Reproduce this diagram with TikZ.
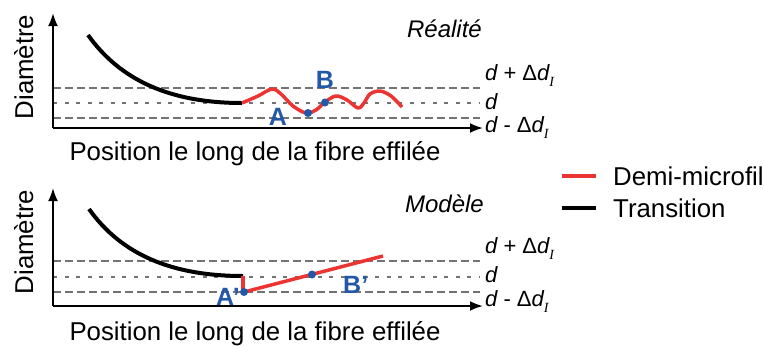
\documentclass[tikz,border=0pt]{standalone}
\usepackage{fontspec}
\setmainfont{Liberation Sans}
\newfontfamily\tnr{Liberation Serif}
\usetikzlibrary{arrows.meta}
\definecolor{myred}{RGB}{236,52,50}
\definecolor{myblue}{RGB}{35,88,168}
\definecolor{dgray}{RGB}{115,115,115}
\newcommand{\subI}{\raisebox{-6pt}{\fontsize{14}{14}\selectfont\tnr\itshape I}}
\begin{document}
\begin{tikzpicture}[x=1pt,y=-1pt,
  axis/.style={line width=2pt,-{Latex[length=13pt,width=10pt]}},
  dline/.style={dgray,line width=1.9pt,dash pattern=on 8pt off 4pt},
  dotline/.style={dgray,line width=1.9pt,dash pattern=on 4pt off 7.5pt},
  trans/.style={line width=4pt,black},
  micro/.style={line width=3.5pt,myred},
  bpt/.style={circle,fill=myblue,inner sep=0pt,minimum size=8pt},
  lab/.style={font=\fontsize{25}{28}\selectfont\bfseries,text=myblue,inner sep=0pt},
  txt/.style={font=\fontsize{25.8}{28}\selectfont,inner sep=0pt},
  ttl/.style={font=\fontsize{24}{28}\selectfont\itshape,inner sep=0pt},
  dlab/.style={font=\fontsize{22}{24}\selectfont\itshape,inner sep=0pt,anchor=west}]
\useasboundingbox (0,0) rectangle (764,346);

% ---------- top panel ----------
\coordinate (o1) at (53,128);
\coordinate (y1) at (53,13);
\coordinate (x1) at (483,128);
\draw[dline] (53,88) coordinate (u1s) -- (480,88) coordinate (u1e);
\draw[dotline] (53,103) coordinate (m1s) -- (480,103) coordinate (m1e);
\draw[dline] (53,118) coordinate (l1s) -- (480,118) coordinate (l1e);
\draw[axis] (o1) -- (y1);
\draw[axis] (o1) -- (x1);
\draw[trans] (88,35) coordinate (t1s) .. controls (120,80) and (170,103) .. (242,103) coordinate (t1e);
\draw[micro,line join=round] plot[smooth,tension=0.55] coordinates {(242,103) (258,96) (272,89) (281,94) (293,106) (306,113) (316,110) (325,102) (336,96) (347,100) (358,108) (364,103) (370,94) (380,91) (391,96) (402,107)};
\node[bpt] (pA) at (308,113) {};
\node[bpt] (pB) at (325,102.5) {};
\node[lab,anchor=base] (lA) at (278,125) {A};
\node[lab,anchor=base] (lB) at (325,88) {B};
\node[ttl,anchor=base east] (real) at (482,37) {Réalité};
\node[txt,anchor=base,rotate=90] (diam1) at (33,67) {Diamètre};
\node[txt,anchor=base] (pos1) at (255,160) {Position le long de la fibre effilée};
\node[dlab] (d1p) at (485,76) {d \upshape+ Δ\itshape d\subI};
\node[dlab] (d1) at (485,102) {d};
\node[dlab] (d1m) at (485,128) {d \upshape- Δ\itshape d\subI};

% ---------- legend ----------
\draw[micro] (562,176) coordinate (lg1s) -- (596,176) coordinate (lg1e);
\node[txt,anchor=base west] (lgr) at (613,185) {Demi-microfil};
\draw[trans] (562,208) coordinate (lg2s) -- (596,208) coordinate (lg2e);
\node[txt,anchor=base west] (lgb) at (613,217) {Transition};

% ---------- bottom panel ----------
\coordinate (o2) at (53,306);
\coordinate (y2) at (53,188);
\coordinate (x2) at (483,306);
\draw[dline] (53,261) coordinate (u2s) -- (480,261) coordinate (u2e);
\draw[dotline] (53,277) coordinate (m2s) -- (480,277) coordinate (m2e);
\draw[dline] (53,292) coordinate (l2s) -- (480,292) coordinate (l2e);
\draw[axis] (o2) -- (y2);
\draw[axis] (o2) -- (x2);
\draw[trans] (89,209) coordinate (t2s) .. controls (121,254) and (171,276) .. (243,276) coordinate (t2e);
\coordinate (ap) at (244,292);
\coordinate (r2e) at (383,256);
\draw[micro] (t2e) -- (243,292);
\draw[micro] (ap) -- (r2e);
\node[bpt] (pA2) at (ap) {};
\node[bpt] (pB2) at (312,274.5) {};
\node[lab,anchor=base west] (lA2) at (216,305) {A’};
\node[lab,anchor=base west] (lB2) at (343,293) {B’};
\node[ttl,anchor=base east] (mod) at (484,212) {Modèle};
\node[txt,anchor=base,rotate=90] (diam2) at (33,242) {Diamètre};
\node[txt,anchor=base] (pos2) at (255,340) {Position le long de la fibre effilée};
\node[dlab] (d2p) at (485,249) {d \upshape+ Δ\itshape d\subI};
\node[dlab] (d2) at (485,275) {d};
\node[dlab] (d2m) at (485,302) {d \upshape- Δ\itshape d\subI};
\end{tikzpicture}
\end{document}
